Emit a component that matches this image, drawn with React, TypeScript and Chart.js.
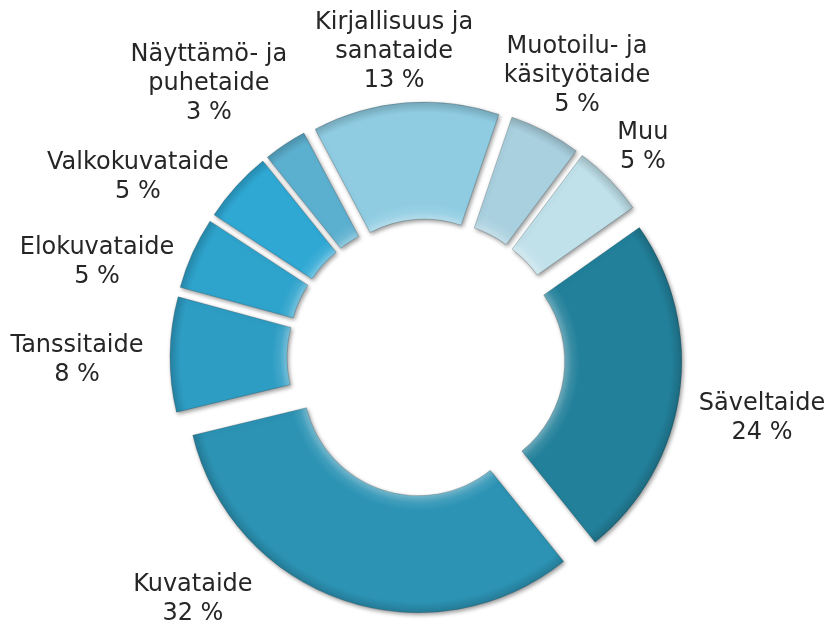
import React, { useEffect, useRef } from 'react';
import { Chart, registerables } from 'chart.js';
Chart.register(...registerables);

// ---- data ----
const categories: string[][] = [
  ['Kirjallisuus ja', 'sanataide'],
  ['Muotoilu- ja', 'käsityötaide'],
  ['Muu'],
  ['Säveltaide'],
  ['Kuvataide'],
  ['Tanssitaide'],
  ['Elokuvataide'],
  ['Valkokuvataide'],
  ['Näyttämö- ja', 'puhetaide'],
];
const shares = [13, 5, 5, 24, 32, 8, 5, 5, 3];
const valueLabels = shares.map((v) => `${v} %`);

// ---- styles / layout ----
const sliceColors = ['#8fcce2', '#a9d0df', '#c0e0ea', '#22809a', '#2c93b4', '#2e9dc4', '#2ea3cc', '#2fa8d4', '#5cb0cf'];
const EXPLODE = 24; // every slice pushed outwards (point explosion)
const OUTER = 232;
const CUT = 0.4957;
// label placement: angle shift (deg) from arc middle, gap (px) beyond outer radius
const labelAngleShift = [-1.3, 0.2, -0.3, 1.8, 25.5, -0.8, -7.6, -9.8, -4.8];
const labelGap = [77.7, 89.6, 72.1, 109, 101.8, 117, 111.3, 109.2, 119.1];
const FONT = '24px "DejaVu Sans", Verdana, sans-serif';
const LINE_H = 29;
const TEXT_DY = 2;

function hexToRgb(h: string) {
  const n = parseInt(h.slice(1), 16);
  return [(n >> 16) & 255, (n >> 8) & 255, n & 255];
}
function mix(h: string, target: number, t: number) {
  const [r, g, b] = hexToRgb(h);
  const f = (c: number) => Math.round(c + (target - c) * t);
  return `rgb(${f(r)},${f(g)},${f(b)})`;
}

const explodePlugin = {
  id: 'explodeSlices',
  afterDatasetUpdate(chart: any, args: any) {
    const meta = args.meta || chart.getDatasetMeta(args.index);
    meta.data.forEach((arc: any) => {
      const mid = (arc.startAngle + arc.endAngle) / 2;
      arc.x += Math.cos(mid) * EXPLODE;
      arc.y += Math.sin(mid) * EXPLODE;
    });
  },
};

const labelPlugin = {
  id: 'outerLabels',
  beforeDatasetsDraw(chart: any) {
    const ctx = chart.ctx;
    ctx.save();
    ctx.shadowColor = 'rgba(0,0,0,0.4)';
    ctx.shadowBlur = 4;
    ctx.shadowOffsetX = 1.5;
    ctx.shadowOffsetY = 2;
  },
  afterDatasetsDraw(chart: any) {
    const ctx = chart.ctx;
    ctx.restore();
    const a = chart.chartArea;
    const cx = (a.left + a.right) / 2;
    const cy = (a.top + a.bottom) / 2;
    const meta = chart.getDatasetMeta(0);
    ctx.save();
    ctx.font = FONT;
    ctx.fillStyle = '#262626';
    ctx.textAlign = 'center';
    ctx.textBaseline = 'middle';
    meta.data.forEach((arc: any, i: number) => {
      const mid = (arc.startAngle + arc.endAngle) / 2 + (labelAngleShift[i] * Math.PI) / 180;
      const d = arc.outerRadius + labelGap[i];
      const lx = cx + Math.cos(mid) * d;
      const ly = cy + Math.sin(mid) * d + TEXT_DY;
      const lines = [...categories[i], valueLabels[i]];
      const top = ly - ((lines.length - 1) * LINE_H) / 2;
      lines.forEach((t, k) => ctx.fillText(t, lx, top + k * LINE_H));
    });
    ctx.restore();
  },
};

export default function App() {
  const ref = useRef<HTMLCanvasElement>(null);
  useEffect(() => {
    if (!ref.current) return;
    const fill = (c: any) => {
      const chart = c.chart;
      const a = chart.chartArea;
      const base = sliceColors[c.dataIndex];
      if (!a) return base;
      const cx0 = (a.left + a.right) / 2;
      const cy0 = (a.top + a.bottom) / 2;
      const total = shares.reduce((s, v) => s + v, 0);
      let before = 0;
      for (let k = 0; k < c.dataIndex; k++) before += shares[k];
      const mid = ((-28 - 90) * Math.PI) / 180 + ((before + shares[c.dataIndex] / 2) / total) * Math.PI * 2;
      const cx = cx0 + Math.cos(mid) * EXPLODE;
      const cy = cy0 + Math.sin(mid) * EXPLODE;
      const r = OUTER * CUT;
      const g = chart.ctx.createRadialGradient(cx, cy, r, cx, cy, OUTER + 1);
      g.addColorStop(0, mix(base, 255, 0.35));
      g.addColorStop(0.06, mix(base, 255, 0.1));
      g.addColorStop(0.13, base);
      g.addColorStop(0.9, base);
      g.addColorStop(1, mix(base, 0, 0.18));
      return g;
    };
    const chart = new Chart(ref.current, {
      type: 'doughnut',
      data: {
        labels: categories.map((c) => c.join(' ')),
        datasets: [
          {
            data: shares,
            backgroundColor: fill,
            borderColor: 'rgba(30,50,60,0.25)',
            borderWidth: 1,
          } as any,
        ],
      },
      options: {
        responsive: false,
        animation: false,
        radius: OUTER,
        cutout: `${CUT * 100}%`,
        rotation: -28,
        layout: { padding: { left: 23, right: 0, top: 94, bottom: 0 } },
        plugins: { legend: { display: false }, tooltip: { enabled: false } },
      } as any,
      plugins: [explodePlugin, labelPlugin],
    });
    return () => chart.destroy();
  }, []);
  return (
    <canvas
      ref={ref}
      width={829}
      height={622}
      style={{ position: 'fixed', left: 0, top: 0, width: 829, height: 622, background: '#fff' }}
    />
  );
}
